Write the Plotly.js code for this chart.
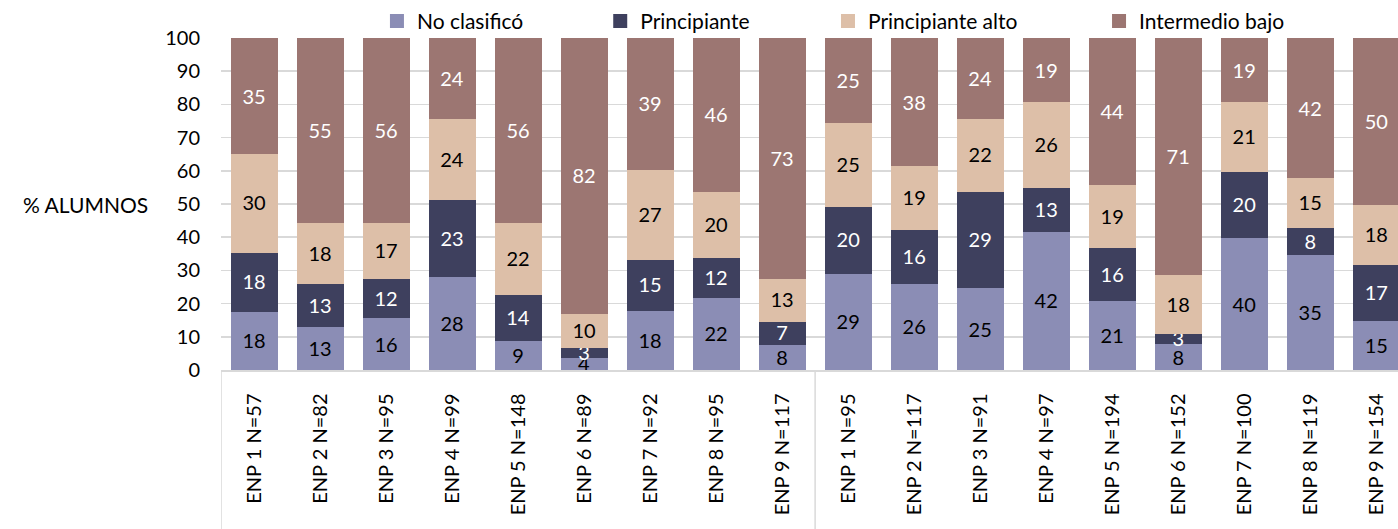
<!DOCTYPE html>
<html>
<head>
<meta charset="utf-8">
<script src="https://cdn.plot.ly/plotly-3.0.1.min.js"></script>
<style>html,body{margin:0;padding:0;background:#fff;}#chart{width:1398px;height:529px;}</style>
</head>
<body>
<div id="chart"></div>
<script>
const categories = [
  "ENP 1 N=57","ENP 2 N=82","ENP 3 N=95","ENP 4 N=99","ENP 5 N=148","ENP 6 N=89","ENP 7 N=92","ENP 8 N=95","ENP 9 N=117",
  "ENP 1 N=95","ENP 2 N=117","ENP 3 N=91","ENP 4 N=97","ENP 5 N=194","ENP 6 N=152","ENP 7 N=100","ENP 8 N=119","ENP 9 N=154"
];
const noClasifico      = [18,13,16,28, 9, 4,18,22, 8, 29,26,25,42,21, 8,40,35,15];
const principiante     = [18,13,12,23,14, 3,15,12, 7, 20,16,29,13,16, 3,20, 8,17];
const principianteAlto = [30,18,17,24,22,10,27,20,13, 25,19,22,26,19,18,21,15,18];
const intermedioBajo   = [35,55,56,24,56,82,39,46,73, 25,38,24,19,44,71,19,42,50];
const seriesNames = ["No clasificó","Principiante","Principiante alto","Intermedio bajo"];
const groupBoundaries = [-0.5, 8.5];

const colors = ["#8B8DB5","#3E405E","#DDBFA8","#9C7672"];
const textColors = ["#000000","#ffffff","#000000","#ffffff"];
const legendNames = ["legend","legend2","legend3","legend4"];
const seriesValues = [noClasifico, principiante, principianteAlto, intermedioBajo];
const FONT = "Lato, 'Open Sans', sans-serif";

const traces = seriesValues.map((vals, i) => ({
  type: "bar",
  name: seriesNames[i],
  x: categories,
  y: vals,
  text: vals.map(String),
  texttemplate: "%{text}",
  textposition: "inside",
  insidetextanchor: "middle",
  textangle: 0,
  textfont: {family: FONT, size: 20, color: textColors[i]},
  marker: {color: colors[i], line: {width: 2, color: colors[i]}},
  legend: legendNames[i],
  hoverinfo: "skip"
}));

const legendX = [0.1325, 0.3222, 0.5157, 0.746];
const legendBase = (x) => ({
  x: x, xanchor: "left", y: 1.05, yanchor: "middle",
  orientation: "h", bgcolor: "rgba(0,0,0,0)",
  font: {family: FONT, size: 21, color: "#000"},
  itemclick: false, itemdoubleclick: false
});

const shapes = groupBoundaries.map(b => ({
  type: "line", xref: "x", yref: "paper",
  x0: b, x1: b, y0: 0, y1: -0.48,
  line: {color: "#D9D9D9", width: 1.5}
}));

const layout = {
  width: 1398, height: 529,
  margin: {l: 221, r: 0, t: 38, b: 159},
  paper_bgcolor: "#fff", plot_bgcolor: "#fff",
  barmode: "stack", barnorm: "percent", bargap: 0.318,
  font: {family: FONT, size: 20, color: "#000"},
  uniformtext: {mode: "show", minsize: 20},
  showlegend: true,
  legend: legendBase(legendX[0]),
  legend2: legendBase(legendX[1]),
  legend3: legendBase(legendX[2]),
  legend4: legendBase(legendX[3]),
  xaxis: {
    type: "category", range: [-0.5, 17.33],
    tickangle: -90, ticks: "", showgrid: false,
    showline: true, linecolor: "#D9D9D9", linewidth: 1.5,
    ticklabelstandoff: 14,
    tickfont: {family: FONT, size: 20, color: "#000"},
    fixedrange: true
  },
  yaxis: {
    range: [0, 100], dtick: 10, tick0: 0, ticks: "",
    showgrid: true, gridcolor: "#D9D9D9", gridwidth: 1.5,
    zeroline: false, showline: false,
    ticklabelstandoff: 20,
    tickfont: {family: FONT, size: 20, color: "#000"},
    fixedrange: true
  },
  shapes: shapes,
  annotations: [{
    text: "% ALUMNOS", xref: "paper", yref: "paper",
    x: (150 - 221) / 1177, y: 0.5, xanchor: "right", yanchor: "middle",
    showarrow: false, font: {family: FONT, size: 21, color: "#000"}
  }]
};

Plotly.newPlot("chart", traces, layout, {displayModeBar: false, staticPlot: true});
</script>
</body>
</html>
